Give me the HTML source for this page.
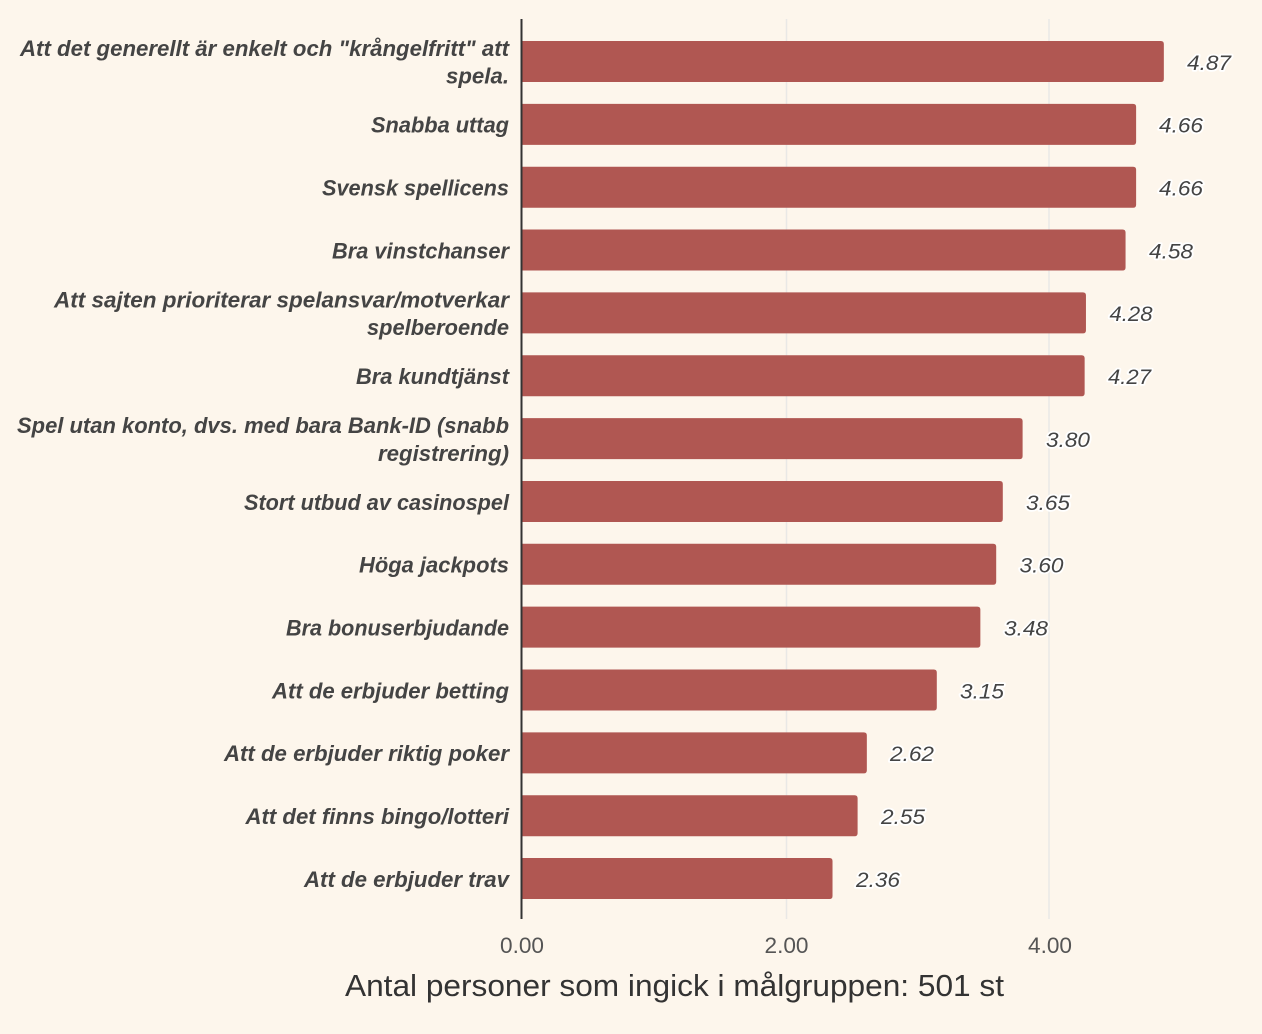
<!DOCTYPE html>
<html>
<head>
<meta charset="utf-8">
<style>
  html, body { margin: 0; padding: 0; background: #fdf6ec; }
  svg { display: block; }
  .cat { font-family: "Liberation Sans", sans-serif; font-weight: bold; font-style: italic; font-size: 22px; fill: #444444; }
  .val { font-family: "Liberation Sans", sans-serif; font-style: italic; font-size: 21px; fill: #444444; stroke: #ffffff; stroke-width: 3.5px; stroke-linejoin: round; paint-order: stroke; }
  .tick { font-family: "Liberation Sans", sans-serif; font-size: 22px; fill: #555555; }
  .title { font-family: "Liberation Sans", sans-serif; font-size: 31px; fill: #333333; }
</style>
</head>
<body>
<svg width="1262" height="1034" viewBox="0 0 1262 1034" xmlns="http://www.w3.org/2000/svg">
  <rect x="0" y="0" width="1262" height="1034" fill="#fdf6ec"/>
  <!-- gridlines -->
  <line x1="786.5" y1="19" x2="786.5" y2="919" stroke="#e9e8e6" stroke-width="1.5"/>
  <line x1="1049" y1="19" x2="1049" y2="919" stroke="#e9e8e6" stroke-width="1.5"/>

  <!-- bars -->
  <g fill="#b05752">
    <path d="M521,41 H1160.84 Q1163.84,41 1163.84,44 V79 Q1163.84,82 1160.84,82 H521 Z"/>
    <path d="M521,103.85 H1133.12 Q1136.12,103.85 1136.12,106.85 V141.85 Q1136.12,144.85 1133.12,144.85 H521 Z"/>
    <path d="M521,166.7 H1133.12 Q1136.12,166.7 1136.12,169.7 V204.7 Q1136.12,207.7 1133.12,207.7 H521 Z"/>
    <path d="M521,229.55 H1122.56 Q1125.56,229.55 1125.56,232.55 V267.55 Q1125.56,270.55 1122.56,270.55 H521 Z"/>
    <path d="M521,292.4 H1082.96 Q1085.96,292.4 1085.96,295.4 V330.4 Q1085.96,333.4 1082.96,333.4 H521 Z"/>
    <path d="M521,355.25 H1081.64 Q1084.64,355.25 1084.64,358.25 V393.25 Q1084.64,396.25 1081.64,396.25 H521 Z"/>
    <path d="M521,418.1 H1019.6 Q1022.6,418.1 1022.6,421.1 V456.1 Q1022.6,459.1 1019.6,459.1 H521 Z"/>
    <path d="M521,480.95 H999.8 Q1002.8,480.95 1002.8,483.95 V518.95 Q1002.8,521.95 999.8,521.95 H521 Z"/>
    <path d="M521,543.8 H993.2 Q996.2,543.8 996.2,546.8 V581.8 Q996.2,584.8 993.2,584.8 H521 Z"/>
    <path d="M521,606.65 H977.36 Q980.36,606.65 980.36,609.65 V644.65 Q980.36,647.65 977.36,647.65 H521 Z"/>
    <path d="M521,669.5 H933.8 Q936.8,669.5 936.8,672.5 V707.5 Q936.8,710.5 933.8,710.5 H521 Z"/>
    <path d="M521,732.35 H863.84 Q866.84,732.35 866.84,735.35 V770.35 Q866.84,773.35 863.84,773.35 H521 Z"/>
    <path d="M521,795.2 H854.6 Q857.6,795.2 857.6,798.2 V833.2 Q857.6,836.2 854.6,836.2 H521 Z"/>
    <path d="M521,858.05 H829.52 Q832.52,858.05 832.52,861.05 V896.05 Q832.52,899.05 829.52,899.05 H521 Z"/>
  </g>

  <!-- axis line -->
  <line x1="521.5" y1="19" x2="521.5" y2="919" stroke="#333333" stroke-width="2"/>

  <!-- category labels -->
  <g class="cat" text-anchor="end">
    <text x="509" y="55.9" textLength="489" lengthAdjust="spacingAndGlyphs">Att det generellt är enkelt och "krångelfritt" att</text>
    <text x="509" y="83.7" textLength="63" lengthAdjust="spacingAndGlyphs">spela.</text>
    <text x="509" y="132.65" textLength="138" lengthAdjust="spacingAndGlyphs">Snabba uttag</text>
    <text x="509" y="195.5" textLength="187" lengthAdjust="spacingAndGlyphs">Svensk spellicens</text>
    <text x="509" y="258.35" textLength="177" lengthAdjust="spacingAndGlyphs">Bra vinstchanser</text>
    <text x="509" y="307.3" textLength="455" lengthAdjust="spacingAndGlyphs">Att sajten prioriterar spelansvar/motverkar</text>
    <text x="509" y="335.1" textLength="142" lengthAdjust="spacingAndGlyphs">spelberoende</text>
    <text x="509" y="384.05" textLength="153" lengthAdjust="spacingAndGlyphs">Bra kundtjänst</text>
    <text x="509" y="433" textLength="492" lengthAdjust="spacingAndGlyphs">Spel utan konto, dvs. med bara Bank-ID (snabb</text>
    <text x="509" y="460.8" textLength="131" lengthAdjust="spacingAndGlyphs">registrering)</text>
    <text x="509" y="509.75" textLength="265" lengthAdjust="spacingAndGlyphs">Stort utbud av casinospel</text>
    <text x="509" y="572.6" textLength="150" lengthAdjust="spacingAndGlyphs">Höga jackpots</text>
    <text x="509" y="635.45" textLength="223" lengthAdjust="spacingAndGlyphs">Bra bonuserbjudande</text>
    <text x="509" y="698.3" textLength="237" lengthAdjust="spacingAndGlyphs">Att de erbjuder betting</text>
    <text x="509" y="761.15" textLength="285" lengthAdjust="spacingAndGlyphs">Att de erbjuder riktig poker</text>
    <text x="509" y="824" textLength="263.5" lengthAdjust="spacingAndGlyphs">Att det finns bingo/lotteri</text>
    <text x="509" y="886.85" textLength="205" lengthAdjust="spacingAndGlyphs">Att de erbjuder trav</text>
  </g>

  <!-- value labels -->
  <g class="val">
    <text x="1187" y="69.8" textLength="44" lengthAdjust="spacingAndGlyphs">4.87</text>
    <text x="1159" y="132.65" textLength="44" lengthAdjust="spacingAndGlyphs">4.66</text>
    <text x="1159" y="195.5" textLength="44" lengthAdjust="spacingAndGlyphs">4.66</text>
    <text x="1149" y="258.35" textLength="44" lengthAdjust="spacingAndGlyphs">4.58</text>
    <text x="1109.5" y="321.2" textLength="43" lengthAdjust="spacingAndGlyphs">4.28</text>
    <text x="1108" y="384.05" textLength="43" lengthAdjust="spacingAndGlyphs">4.27</text>
    <text x="1046" y="446.9" textLength="44" lengthAdjust="spacingAndGlyphs">3.80</text>
    <text x="1026" y="509.75" textLength="44" lengthAdjust="spacingAndGlyphs">3.65</text>
    <text x="1019.5" y="572.6" textLength="44" lengthAdjust="spacingAndGlyphs">3.60</text>
    <text x="1004" y="635.45" textLength="44" lengthAdjust="spacingAndGlyphs">3.48</text>
    <text x="960" y="698.3" textLength="44" lengthAdjust="spacingAndGlyphs">3.15</text>
    <text x="890" y="761.15" textLength="44" lengthAdjust="spacingAndGlyphs">2.62</text>
    <text x="881" y="824" textLength="44" lengthAdjust="spacingAndGlyphs">2.55</text>
    <text x="856" y="886.85" textLength="44" lengthAdjust="spacingAndGlyphs">2.36</text>
  </g>

  <!-- tick labels -->
  <g class="tick" text-anchor="middle">
    <text x="522" y="953" textLength="44" lengthAdjust="spacingAndGlyphs">0.00</text>
    <text x="786.5" y="953" textLength="44" lengthAdjust="spacingAndGlyphs">2.00</text>
    <text x="1050" y="953" textLength="44" lengthAdjust="spacingAndGlyphs">4.00</text>
  </g>

  <!-- axis title -->
  <text class="title" x="345" y="996" textLength="659" lengthAdjust="spacingAndGlyphs">Antal personer som ingick i målgruppen: 501 st</text>
</svg>
</body>
</html>
